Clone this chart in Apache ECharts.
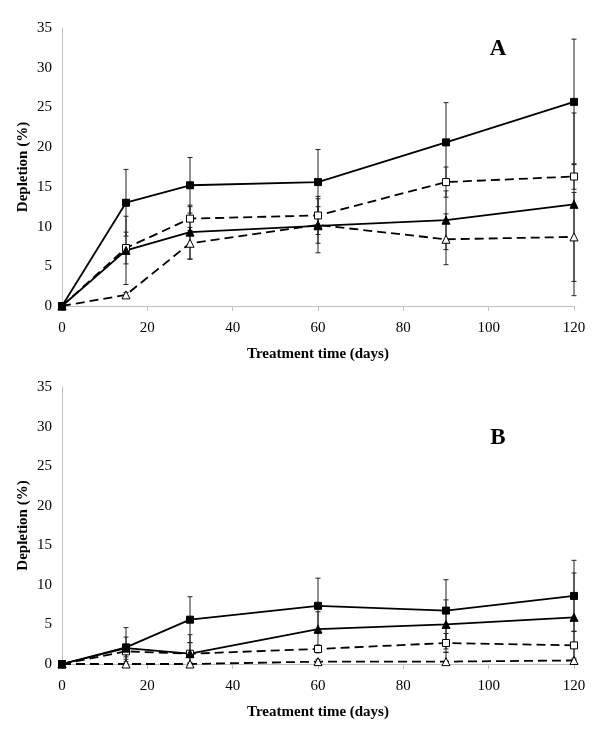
<!DOCTYPE html>
<html>
<head>
<meta charset="utf-8">
<script src="https://cdn.jsdelivr.net/npm/echarts@6/dist/echarts.min.js"></script>
<style>html,body{margin:0;padding:0;background:#fff}#c{width:600px;height:734px}</style>
</head>
<body>
<div id="c"></div>
<script>
// ---- data ----
var days = [0, 15, 30, 60, 90, 120];
var yTicks = [0, 5, 10, 15, 20, 25, 30, 35];
var xTicks = [0, 20, 40, 60, 80, 100, 120];

// Panel A
var A_sqFilled = [0, 13.0, 15.2, 15.6, 20.6, 25.7];
var A_sqFilledErr = [0, 4.2, 3.5, 4.1, 5.0, 7.9];
var A_sqOpen = [0, 7.3, 11.0, 11.4, 15.6, 16.3];
var A_sqOpenErr = [0, 2.0, 1.5, 2.4, 1.9, 1.6];
var A_triFilled = [0, 7.0, 9.3, 10.1, 10.8, 12.8];
var A_triFilledErr = [0, 4.3, 3.4, 3.4, 3.7, 11.5];
var A_triOpen = [0, 1.4, 7.9, 10.2, 8.4, 8.7];
var A_triOpenErr = [0, 0.3, 2.0, 2.3, 3.2, 5.6];

// Panel B
var B_sqFilled = [0, 2.1, 5.6, 7.35, 6.75, 8.6];
var B_sqFilledErr = [0, 2.5, 2.9, 3.5, 3.9, 4.5];
var B_triFilled = [0, 2.0, 1.3, 4.4, 5.0, 5.9];
var B_triFilledErr = [0, 1.4, 2.4, 2.2, 3.1, 5.6];
var B_sqOpen = [0, 1.6, 1.3, 1.9, 2.65, 2.35];
var B_sqOpenErr = [0, 0.7, 1.4, 0.5, 1.2, 1.8];
var B_triOpen = [0, 0, 0, 0.3, 0.3, 0.45];
var B_triOpenErr = [0, 0.3, 0.2, 0.3, 1.2, 0.3];

var panelLabels = ['A', 'B'];
var yName = 'Depletion (%)';
var xName = 'Treatment time (days)';

// ---- build ----
var FONT = "'Liberation Serif', 'Times New Roman', serif";

function pairs(vals) { return days.map(function (d, i) { return [d, vals[i]]; }); }
function errPairs(vals, errs) {
  var out = [];
  days.forEach(function (d, i) {
    if (errs[i] > 0) out.push([d, Math.max(0, vals[i] - errs[i]), vals[i] + errs[i]]);
  });
  return out;
}

function errSeries(idx, vals, errs) {
  return {
    type: 'custom', xAxisIndex: idx, yAxisIndex: idx, z: 1, silent: true,
    data: errPairs(vals, errs),
    encode: { x: 0, y: [1, 2] },
    renderItem: function (params, api) {
      var lo = api.coord([api.value(0), api.value(1)]);
      var hi = api.coord([api.value(0), api.value(2)]);
      var w = 2.5;
      var st = { stroke: '#222', lineWidth: 1 };
      return {
        type: 'group', children: [
          { type: 'line', shape: { x1: lo[0], y1: lo[1], x2: hi[0], y2: hi[1] }, style: st },
          { type: 'line', shape: { x1: lo[0] - w, y1: lo[1], x2: lo[0] + w, y2: lo[1] }, style: st },
          { type: 'line', shape: { x1: hi[0] - w, y1: hi[1], x2: hi[0] + w, y2: hi[1] }, style: st }
        ]
      };
    }
  };
}

function lineSeries(idx, vals, symbol, filled, dashed) {
  return {
    type: 'line', xAxisIndex: idx, yAxisIndex: idx, z: 3,
    data: pairs(vals),
    symbol: symbol,
    symbolSize: symbol === 'rect' ? 7 : 8,
    showSymbol: true,
    lineStyle: { color: '#000', width: 1.8, type: dashed ? [9, 5] : 'solid' },
    itemStyle: { color: filled ? '#000' : '#fff', borderColor: '#000', borderWidth: 1 },
    animation: false
  };
}

var grids = [
  { left: 62, right: 26, top: 28, height: 278 },
  { left: 62, right: 26, top: 387, height: 277 }
];

function xAxis(i) {
  return {
    gridIndex: i, type: 'value', min: xTicks[0], max: xTicks[xTicks.length - 1], interval: 20,
    name: xName, nameLocation: 'middle', nameGap: 41,
    nameTextStyle: { fontFamily: FONT, fontWeight: 'bold', fontSize: 15, color: '#000' },
    axisLine: { show: true, lineStyle: { color: '#c0c0c0', width: 1 } },
    axisTick: { show: true, length: 5, lineStyle: { color: '#c0c0c0' } },
    axisLabel: { fontFamily: FONT, fontSize: 15, color: '#000', margin: 15 },
    splitLine: { show: false }
  };
}
function yAxis(i) {
  return {
    gridIndex: i, type: 'value', min: yTicks[0], max: yTicks[yTicks.length - 1], interval: 5,
    name: yName, nameLocation: 'middle', nameGap: 31, nameMoveOverlap: false,
    nameTextStyle: { fontFamily: FONT, fontWeight: 'bold', fontSize: 15, color: '#000' },
    axisLine: { show: true, lineStyle: { color: '#c0c0c0', width: 1 } },
    axisTick: { show: false },
    axisLabel: { fontFamily: FONT, fontSize: 15, color: '#000', margin: 10 },
    splitLine: { show: false }
  };
}

var series = [
  errSeries(0, A_sqFilled, A_sqFilledErr),
  errSeries(0, A_sqOpen, A_sqOpenErr),
  errSeries(0, A_triFilled, A_triFilledErr),
  errSeries(0, A_triOpen, A_triOpenErr),
  lineSeries(0, A_triOpen, 'triangle', false, true),
  lineSeries(0, A_sqOpen, 'rect', false, true),
  lineSeries(0, A_triFilled, 'triangle', true, false),
  lineSeries(0, A_sqFilled, 'rect', true, false),

  errSeries(1, B_sqFilled, B_sqFilledErr),
  errSeries(1, B_sqOpen, B_sqOpenErr),
  errSeries(1, B_triFilled, B_triFilledErr),
  errSeries(1, B_triOpen, B_triOpenErr),
  lineSeries(1, B_triOpen, 'triangle', false, true),
  lineSeries(1, B_sqOpen, 'rect', false, true),
  lineSeries(1, B_triFilled, 'triangle', true, false),
  lineSeries(1, B_sqFilled, 'rect', true, false)
];

var chart = echarts.init(document.getElementById('c'), null, { renderer: 'canvas' });
chart.setOption({
  backgroundColor: '#fff',
  animation: false,
  grid: grids,
  xAxis: [xAxis(0), xAxis(1)],
  yAxis: [yAxis(0), yAxis(1)],
  graphic: [
    { type: 'text', x: 498, y: 49, style: { text: panelLabels[0], font: 'bold 23px ' + FONT, fill: '#000', textAlign: 'center', textVerticalAlign: 'middle' } },
    { type: 'text', x: 498, y: 438, style: { text: panelLabels[1], font: 'bold 23px ' + FONT, fill: '#000', textAlign: 'center', textVerticalAlign: 'middle' } }
  ],
  series: series
});
</script>
</body>
</html>
